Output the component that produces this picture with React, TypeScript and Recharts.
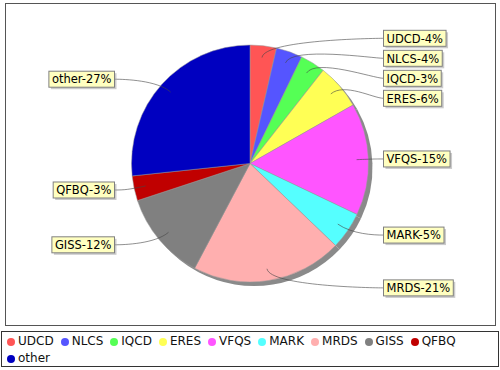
import { PieChart, Pie, Cell, Legend } from 'recharts';

const categories = ['UDCD', 'NLCS', 'IQCD', 'ERES', 'VFQS', 'MARK', 'MRDS', 'GISS', 'QFBQ', 'other'];
const shares = [3.6, 3.6, 3.4, 6.2, 15.3, 5.1, 20.6, 12.2, 3.4, 26.7];
const colors = ['#FF5555', '#5555FF', '#55FF55', '#FFFF55', '#FF55FF', '#55FFFF', '#FFAFAF', '#808080', '#C00000', '#0000C0'];

const data = categories.map((name, i) => ({ name, value: shares[i] }));
const total = shares.reduce((a, b) => a + b, 0);

const CX = 250;
const CY = 163.5;
const R = 118.5;
const LABEL_R = 126; // radius used to place labels vertically
const LABEL_GAP = 20; // min vertical distance between labels on one side
const FONT = '"DejaVu Sans", Verdana, sans-serif';
const LABEL_FONT_SIZE = 11.5;
const RAD = Math.PI / 180;

// mid angle of every slice (start at 12 o'clock, clockwise)
const midAngles = (() => {
    let a = 90;
    return shares.map((v) => {
        const span = (360 * v) / total;
        const m = a - span / 2;
        a -= span;
        return m;
    });
})();

// spread labels on each side so the boxes don't overlap
const allocY: number[] = (() => {
    const out = new Array(shares.length).fill(0);
    for (const right of [true, false]) {
        const idx = midAngles.map((_, i) => i).filter((i) => (Math.cos(midAngles[i] * RAD) >= 0) === right);
        idx.sort((a, b) => Math.sin(midAngles[b] * RAD) - Math.sin(midAngles[a] * RAD));
        let prev = -Infinity;
        for (const i of idx) {
            const y = Math.max(-LABEL_R * Math.sin(midAngles[i] * RAD), prev + LABEL_GAP);
            out[i] = y;
            prev = y;
        }
    }
    return out;
})();

let ctx: CanvasRenderingContext2D | null = null;
const measure = (s: string) => {
    if (!ctx) ctx = document.createElement('canvas').getContext('2d');
    if (!ctx) return s.length * 7;
    ctx.font = `${LABEL_FONT_SIZE}px ${FONT}`;
    return ctx.measureText(s).width;
};

const renderLabel = (props: any) => {
    const { cx, cy, midAngle, outerRadius, index, percent } = props;
    const cos = Math.cos(midAngle * RAD);
    const sin = Math.sin(midAngle * RAD);
    const right = cos >= 0;
    const lx = cx + outerRadius * 0.9 * cos;
    const ly = cy - outerRadius * 0.9 * sin;
    const ex = cx + outerRadius * 1.05 * cos;
    const ey = cy - outerRadius * 1.05 * sin;
    const ty = cy + allocY[index];
    const edge = right ? cx + outerRadius + 15 : cx - outerRadius - 17;
    const ctrlX = right ? edge - 10 : edge + 10;
    const text = `${categories[index]}-${Math.round(percent * 100)}%`;
    const w = measure(text) + 6;
    const h = 16;
    const bx = right ? edge : edge - w;
    return (
        <g key={`lbl-${index}`}>
            <path
                d={`M${lx},${ly} C${ex},${ey} ${ctrlX},${ty} ${edge},${ty}`}
                fill="none"
                stroke="#444"
                strokeWidth={0.6}
            />
            <rect x={bx + 2} y={ty - h / 2 + 2} width={w} height={h} fill="rgba(151,151,151,0.5)" />
            <rect x={bx} y={ty - h / 2} width={w} height={h} fill="#FFFFC0" stroke="#808080" strokeWidth={1} />
            <text x={bx + 3} y={ty + 4.2} fontSize={LABEL_FONT_SIZE} fontFamily={FONT} fill="#000">
                {text}
            </text>
        </g>
    );
};

function LegendBox() {
    return (
        <div
            style={{
                boxSizing: 'border-box',
                width: 498,
                height: 36,
                border: '1px solid #333',
                padding: '1px 5px',
                display: 'flex',
                flexWrap: 'wrap',
                alignContent: 'flex-start',
                fontFamily: FONT,
                fontSize: 12,
                lineHeight: '17px',
                color: '#111',
                background: '#fff',
            }}
        >
            {categories.map((c, i) => (
                <span key={c} style={{ display: 'inline-flex', alignItems: 'center', marginRight: 7 }}>
                    <span
                        style={{
                            display: 'inline-block',
                            width: 8,
                            height: 8,
                            borderRadius: '50%',
                            background: colors[i],
                            marginRight: 3,
                        }}
                    />
                    {c}
                </span>
            ))}
        </div>
    );
}

export default function App() {
    return (
        <div style={{ position: 'relative', width: 500, height: 370, background: '#fff', fontFamily: FONT }}>
            <style>{'body{margin:0}'}</style>
            <div
                style={{
                    position: 'absolute',
                    left: 5,
                    top: 3,
                    width: 491,
                    height: 323,
                    boxSizing: 'border-box',
                    border: '1px solid #555',
                }}
            />
            <PieChart width={500} height={370} margin={{ top: 0, right: 0, bottom: 0, left: 0 }}>
                <Pie
                    data={data}
                    dataKey="value"
                    nameKey="name"
                    cx={CX + 4}
                    cy={CY + 4}
                    outerRadius={R}
                    startAngle={90}
                    endAngle={-270}
                    fill="#8a8a8a"
                    stroke="none"
                    legendType="none"
                    isAnimationActive={false}
                />
                <Pie
                    data={data}
                    dataKey="value"
                    nameKey="name"
                    cx={CX}
                    cy={CY}
                    outerRadius={R}
                    startAngle={90}
                    endAngle={-270}
                    stroke="#999"
                    strokeWidth={0.5}
                    label={renderLabel}
                    labelLine={false}
                    isAnimationActive={false}
                >
                    {data.map((d, i) => (
                        <Cell key={d.name} fill={colors[i]} />
                    ))}
                </Pie>
                <Legend
                    verticalAlign="bottom"
                    content={() => <LegendBox />}
                    wrapperStyle={{ position: 'absolute', left: 1, top: 331, bottom: 'auto', width: 498, height: 36 }}
                />
            </PieChart>
        </div>
    );
}
